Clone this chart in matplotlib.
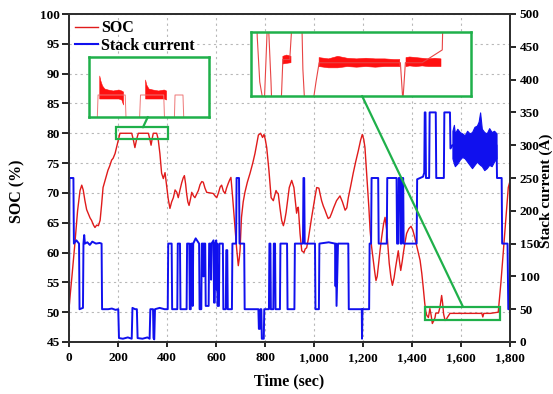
import numpy as np
import matplotlib.pyplot as plt
from matplotlib.patches import Rectangle, ConnectionPatch
from matplotlib.lines import Line2D
from matplotlib.ticker import FuncFormatter, MultipleLocator

plt.rcParams['font.family'] = 'Liberation Serif'
plt.rcParams['font.weight'] = 'bold'
plt.rcParams['axes.labelweight'] = 'bold'

# SOC (%) over time (sec)
soc_t = [0, 4, 12, 24, 35, 45, 52, 58, 65, 72, 79, 86, 92, 100, 106, 113, 120, 127, 133, 139,
         150, 159, 166, 174, 180, 188, 195, 201, 208, 256, 262, 269, 276, 283, 324, 330, 335, 340,
         344, 358, 364, 371, 378, 385, 392, 399, 405, 412, 419, 426, 433, 440, 446, 453, 460, 466,
         471, 476, 480, 485, 490, 496, 501, 508, 514, 521, 528, 535, 542, 548, 555, 562, 575, 589,
         596, 603, 610, 617, 623, 630, 637, 643, 650, 656, 661, 668, 673, 678, 684, 691, 695, 698,
         701, 704, 711, 718, 728, 739, 750, 759, 766, 773, 782, 790, 796, 801, 807, 816, 825, 834,
         840, 845, 850, 854, 861, 868, 875, 880, 886, 893, 899, 909, 918, 924, 929, 933, 936, 943,
         950, 959, 964, 970, 977, 984, 990, 997, 1004, 1011, 1020, 1025, 1031, 1038, 1045, 1052,
         1058, 1065, 1072, 1080, 1092, 1106, 1116, 1127, 1134, 1140, 1150, 1160, 1170, 1181, 1190,
         1197, 1203, 1208, 1213, 1219, 1224, 1229, 1235, 1242, 1248, 1253, 1258, 1262, 1270, 1276,
         1284, 1290, 1297, 1302, 1307, 1314, 1320, 1327, 1333, 1340, 1344, 1349, 1354, 1360, 1365,
         1372, 1378, 1387, 1396, 1403, 1409, 1420, 1433, 1440, 1446, 1452, 1456, 1460, 1467, 1473,
         1478, 1483, 1488, 1494, 1497, 1508, 1514, 1521, 1525, 1529, 1535, 1540, 1544, 1550, 1555,
         1600, 1650, 1685, 1689, 1693, 1720, 1752, 1763, 1773, 1783, 1793, 1800]
soc_v = [50.5, 52.5, 56, 61.5, 67, 70.4, 71.3, 70.5, 68.7, 67.2, 66.5, 65.8, 65.4, 64.6, 64.2, 64.6,
         64.5, 65.4, 68, 70.9, 72.5, 73.8, 74.5, 75.5, 75.8, 76.6, 77.8, 78.8, 80, 80, 79.0, 77.6,
         79, 80, 80, 79, 78, 79.2, 80, 80, 79, 76.6, 73.3, 72.4, 73.4, 71, 69, 67.4, 68.5, 69.2,
         70.5, 70.1, 69.2, 70.5, 71.7, 72.5, 72.9, 71.5, 69.9, 68.5, 67.9, 69, 70.1, 69.5, 69.2,
         69.8, 70.4, 71.4, 71.9, 71.8, 70.8, 70.1, 70, 69.9, 69.5, 69.2, 70, 71, 71.3, 70.3, 69.9,
         70.8, 71.6, 72.2, 72.6, 69.2, 66.5, 63.7, 60.8, 57.8, 59, 60.3, 63, 65.9, 68.5, 70.1, 71.8,
         73.3, 75, 76.6, 78.2, 79.7, 80, 79.3, 79.8, 79, 77.6, 73.8, 69.2, 68.7, 69.6, 70.4, 70,
         69.9, 67.5, 65.4, 64.5, 65.3, 66.7, 69, 70.9, 72.1, 70.9, 68.5, 66.6, 67.5, 67.6, 63.2,
         60.3, 60, 60.6, 60.8, 62.3, 64.2, 65.8, 67.6, 69.3, 70.9, 70.8, 69.8, 68.7, 67.8, 67.1,
         66.3, 65.7, 65.9, 66.6, 67.5, 68.7, 69.5, 68.5, 67.1, 67.5, 69.2, 71.2, 73.3, 75.2, 77.1,
         78.8, 79.8, 79, 77.6, 74.5, 70.9, 67.5, 63.7, 61, 58.7, 56.7, 55.3, 56, 57.5, 60.5, 62.5,
         64.8, 65.9, 63.7, 61, 58.2, 55.8, 54.5, 55.8, 57.5, 59.3, 60.3, 58.5, 57, 58.5, 60, 61.8,
         63.2, 64, 64.4, 63.8, 62.9, 61, 58.7, 56.5, 54.1, 51.5, 50.2, 49.5, 49.1, 50.6, 49.5,
         48.1, 48.5, 49.1, 49.85, 49.85, 50.8, 52.8, 51.5, 49.7, 48.6, 48.8, 49.1, 49.5, 49.8,
         49.8, 49.8, 49.8, 49.2, 49.8, 49.8, 50.0, 55, 60.3, 65.5, 70.9, 72]

# Stack current (A) over time (sec)
cur_t = [0, 2, 18, 20, 30, 41, 43, 57, 59, 62, 65, 75, 85, 95, 110, 125, 133, 135, 160, 175, 190,
         201, 204, 220, 240, 256, 259, 270, 277, 280, 300, 320, 329, 332, 343, 345, 348, 351, 370,
         390, 403, 405, 419, 421, 442, 444, 453, 455, 480, 482, 491, 493, 497, 499, 501, 503, 505,
         507, 517, 531, 533, 540, 542, 547, 549, 551, 556, 558, 570, 572, 578, 580, 582, 590, 592,
         595, 597, 601, 603, 605, 606, 612, 614, 628, 630, 640, 642, 646, 648, 665, 667, 682, 684,
         694, 696, 715, 717, 773, 775, 779, 781, 785, 787, 795, 797, 816, 818, 822, 824, 834, 836,
         841, 843, 861, 863, 890, 892, 920, 922, 955, 957, 960, 962, 1004, 1006, 1020, 1022, 1060,
         1086, 1088, 1090, 1092, 1095, 1098, 1140, 1142, 1170, 1195, 1196, 1198, 1225, 1227, 1233,
         1235, 1262, 1264, 1297, 1299, 1337, 1339, 1344, 1346, 1352, 1354, 1358, 1360, 1364, 1366,
         1419, 1421, 1445, 1450, 1452, 1455, 1457, 1470, 1472, 1497, 1499, 1530, 1532, 1555, 1557,
         1565, 1655, 1745, 1747, 1766, 1768, 1790, 1793, 1800]
cur_v = [30, 250, 250, 150, 155, 150, 50, 52, 150, 163, 150, 152, 148, 153, 150, 151, 150, 50, 50,
         51, 49, 50, 6, 5, 7, 5, 52, 50, 50, 6, 5, 7, 5, 50, 50, 6, 4, 50, 52, 50, 50, 150, 150, 50,
         50, 150, 150, 50, 50, 150, 150, 50, 50, 150, 60, 150, 55, 150, 158, 150, 50, 50, 150, 150,
         100, 150, 150, 55, 55, 150, 150, 95, 150, 155, 60, 60, 150, 155, 80, 150, 55, 55, 150, 150,
         50, 50, 140, 140, 50, 50, 150, 150, 250, 250, 150, 150, 50, 50, 20, 20, 50, 50, 5, 5, 50,
         50, 150, 150, 50, 50, 150, 150, 50, 50, 150, 150, 50, 50, 150, 150, 250, 250, 150, 150,
         50, 50, 150, 152, 150, 85, 150, 55, 100, 150, 150, 50, 50, 50, 5, 50, 50, 150, 150, 250,
         250, 150, 150, 250, 250, 150, 150, 250, 250, 150, 150, 250, 250, 150, 150, 248, 252, 258,
         350, 350, 250, 250, 350, 350, 250, 250, 350, 350, 295, 300, 298, 300, 250, 250, 150, 150,
         50, 50]

# envelope of the fast current ripple at the end of the cycle
band_t = [1565, 1571, 1575, 1585, 1595, 1605, 1615, 1625, 1635, 1645, 1655, 1665, 1672, 1678,
          1685, 1695, 1705, 1715, 1725, 1735, 1745]
band_hi = [322, 331, 318, 325, 320, 318, 315, 322, 318, 320, 328, 330, 336, 350, 325, 320, 318,
           326, 320, 322, 318]
band_lo = [280, 272, 268, 272, 278, 282, 280, 275, 270, 265, 270, 275, 272, 270, 268, 262, 265,
           270, 268, 275, 280]

# ripple of SOC while it is held at the upper limit
ins1_t = [211, 213, 216, 220, 226, 235, 245, 250, 253, np.nan, 292, 294, 298, 305, 315, 325, 329]
ins1_hi = [80.19, 80.14, 80.09, 80.06, 80.05, 80.04, 80.05, 80.04, 80.03, np.nan,
           80.15, 80.10, 80.06, 80.05, 80.04, 80.05, 80.04]
ins1_lo = [79.96, 79.96, 79.96, 79.96, 79.96, 79.96, 79.96, 79.95, 79.90, np.nan,
           79.96, 79.96, 79.96, 79.96, 79.96, 79.96, 79.95]

# ripple of SOC while it is held at the lower limit
ins2_t = [1497, 1503, 1510, np.nan, 1555, 1570, 1585, 1600, 1615, 1630, 1645, 1660, 1675,
          1684, np.nan, 1694, 1700, 1710, 1720, 1730, 1740, 1750]
ins2_hi = [49.90, 49.92, 49.90, np.nan, 49.88, 49.86, 49.90, 49.87, 49.86, 49.87, 49.86, 49.86,
           49.85, 49.85, np.nan, 49.88, 49.89, 49.88, 49.87, 49.86, 49.87, 49.86]
ins2_lo = [49.78, 49.79, 49.80, np.nan, 49.74, 49.72, 49.72, 49.74, 49.73, 49.74, 49.73, 49.74,
           49.74, 49.74, np.nan, 49.74, 49.75, 49.74, 49.75, 49.74, 49.74, 49.74]

red = '#e01b1b'
blue = '#1010ee'
green = '#1fb04a'
W, H = 553, 394

fig = plt.figure(figsize=(W / 100, H / 100), dpi=100)
ax = fig.add_axes([69 / W, 1 - 342 / H, 441 / W, 328 / H])
ax2 = ax.twinx()

ax.plot(soc_t, soc_v, color=red, lw=1.0)
ax2.plot(cur_t, cur_v, color=blue, lw=1.4)
ax2.fill_between(band_t, band_lo, band_hi, color=blue, lw=0.8)

ax.set_xlim(0, 1800)
ax.set_ylim(45, 100)
ax2.set_ylim(0, 500)
ax.xaxis.set_major_locator(MultipleLocator(200))
ax.yaxis.set_major_locator(MultipleLocator(5))
ax2.yaxis.set_major_locator(MultipleLocator(50))
ax.xaxis.set_major_formatter(FuncFormatter(lambda v, p: f'{v:,.0f}'))

ax.grid(True, color='#b8b8b8', linestyle=(0, (2, 3)), lw=0.8)
for a in (ax, ax2):
    for s in a.spines.values():
        s.set_linewidth(1.4)
        s.set_color('#303030')
ax.tick_params(axis='y', direction='out', length=5, width=1.2, pad=1.5, labelsize=9.5)
ax.tick_params(axis='x', direction='out', length=3.5, width=1.2, pad=4, labelsize=9.5)
ax2.tick_params(axis='y', direction='out', length=4.5, width=1.2, pad=2.5, labelsize=9.5)

ax.set_xlabel('Time (sec)', fontsize=11.5)
ax.set_ylabel('SOC (%)', fontsize=11.5)
ax2.set_ylabel('Stack current (A)', fontsize=11)
ax.xaxis.set_label_coords(0.5, -0.095)
ax.yaxis.set_label_coords(-0.1, 0.46)
ax2.yaxis.set_label_coords(1.066, 0.46)

handles = [Line2D([], [], color=red, lw=1.0), Line2D([], [], color=blue, lw=1.5)]
ax2.legend(handles, ['SOC', 'Stack current'], loc='upper left', frameon=False, fontsize=11.5,
           handlelength=1.4, handletextpad=0.2, labelspacing=0.1, borderaxespad=0.2,
           borderpad=0.2)

# marked regions on the main axes
ax2.add_patch(Rectangle((192, (79 - 45) / 55 * 500), 212, 2 / 55 * 500, fill=False,
                        edgecolor=green, lw=1.6, zorder=5))
ax2.add_patch(Rectangle((1453, (48.7 - 45) / 55 * 500), 306, 2.2 / 55 * 500, fill=False,
                        edgecolor=green, lw=1.6, zorder=5))

# magnified views
ins1 = fig.add_axes([89 / W, 1 - 117 / H, 120 / W, 60 / H])
ins1.plot(soc_t, soc_v, color='#ee7777', lw=0.7)
ins1.fill_between(ins1_t, ins1_lo, ins1_hi, color='#ff1010', lw=0.4)
ins1.set_xlim(192, 404)
ins1.set_ylim(79.78, 80.38)

ins2 = fig.add_axes([251 / W, 1 - 96 / H, 220 / W, 64 / H])
ins2.plot(soc_t, soc_v, color='#e84444', lw=0.8)
ins2.fill_between(ins2_t, ins2_lo, ins2_hi, color='#ff1010', lw=0.4)
ins2.set_xlim(1446, 1798)
ins2.set_ylim(49.28, 50.28)

for a in (ins1, ins2):
    a.set_xticks([])
    a.set_yticks([])
    for s in a.spines.values():
        s.set_color(green)
        s.set_linewidth(1.8)

fig.add_artist(ConnectionPatch(xyA=(0.49, 0), coordsA=ins1.transAxes, xyB=(302, 81),
                               coordsB=ax.transData, color=green, lw=1.6))
fig.add_artist(ConnectionPatch(xyA=(0.505, 0), coordsA=ins2.transAxes, xyB=(1608, 50.9),
                               coordsB=ax.transData, color=green, lw=1.6))

fig.savefig('out.png', dpi=100)
